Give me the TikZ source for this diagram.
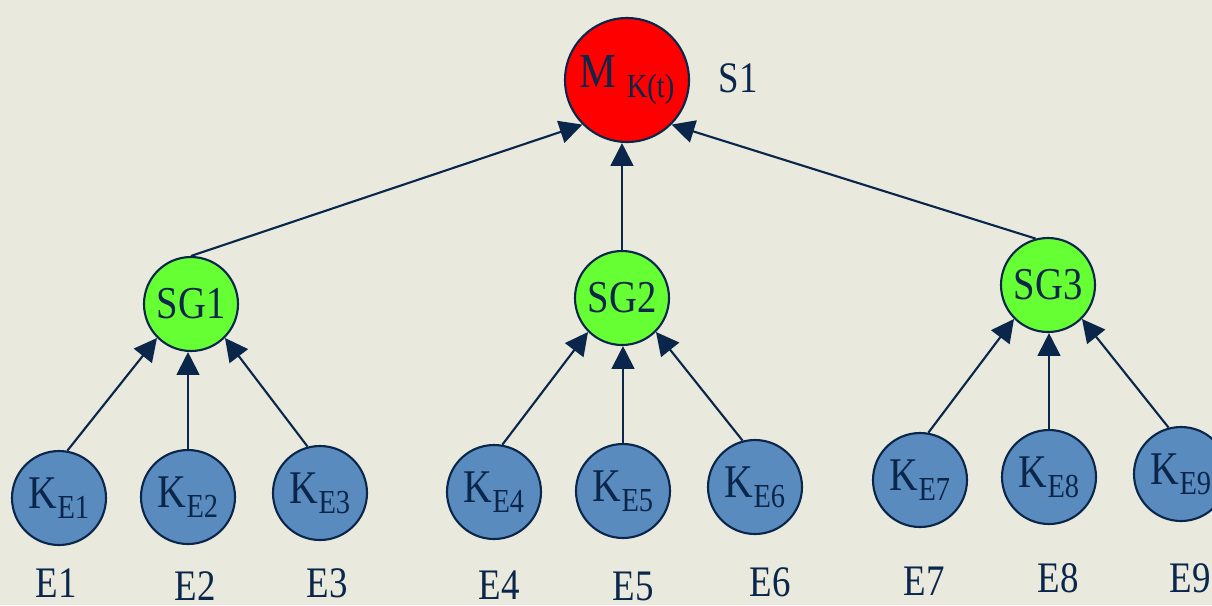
\documentclass[tikz,border=0pt]{standalone}
\usepackage{graphicx}
\usepackage{fontspec}
\setmainfont{Liberation Serif}
\usetikzlibrary{arrows.meta, positioning}
\definecolor{bgpaper}{RGB}{233,233,221}
\definecolor{navy}{RGB}{10,38,75}
\definecolor{topred}{RGB}{255,0,0}
\definecolor{groupgreen}{RGB}{102,255,51}
\definecolor{leafblue}{RGB}{90,139,190}
\newcommand{\ksub}[1]{\raisebox{-2.4pt}{\fontsize{8.1}{9}\selectfont #1}}
\newcommand{\tall}[1]{\scalebox{1}[1.18]{#1}}
\tikzset{
    topnode/.style = {circle, draw=navy, line width=0.6pt, fill=topred, text=navy, inner sep=0pt, minimum size=1.24cm, font=\fontsize{11.8}{13}\selectfont},
    groupnode/.style = {circle, draw=navy, line width=0.6pt, fill=groupgreen, text=navy, inner sep=0pt, minimum size=0.94cm, font=\fontsize{11}{13}\selectfont},
    leafnode/.style = {circle, draw=navy, line width=0.6pt, fill=leafblue, text=navy, inner sep=0pt, minimum size=0.94cm, font=\fontsize{11.3}{13}\selectfont},
    tag/.style = {text=navy, inner sep=0pt, font=\fontsize{10.5}{12}\selectfont},
    line/.style = {draw=navy, line width=0.6pt, -{Triangle[length=6.5pt, width=6.5pt]}}
}
\begin{document}
\begin{tikzpicture}
        % Background
        \useasboundingbox (0,0) rectangle (12.12,6.05);
        \fill [bgpaper] (0,0) rectangle (12.12,6.05);

        % Top node
        \node [topnode] (m) at (6.27,5.25) {\tall{M \ksub{K(t)}}};
        \node [tag] (s1) at (7.38,5.27) {\tall{S1}};

        % Sub groups
        \node [groupnode] (sg1) at (1.91,3.01) {\tall{SG1}};
        \node [groupnode] (sg2) at (6.22,3.07) {\tall{SG2}};
        \node [groupnode] (sg3) at (10.48,3.20) {\tall{SG3}};

        % Leaves
        \node [leafnode] (ke1) at (0.59,1.07) {\tall{K\ksub{E1}}};
        \node [leafnode] (ke2) at (1.88,1.08) {\tall{K\ksub{E2}}};
        \node [leafnode] (ke3) at (3.20,1.12) {\tall{K\ksub{E3}}};
        \node [leafnode] (ke4) at (4.94,1.13) {\tall{K\ksub{E4}}};
        \node [leafnode] (ke5) at (6.23,1.14) {\tall{K\ksub{E5}}};
        \node [leafnode] (ke6) at (7.55,1.18) {\tall{K\ksub{E6}}};
        \node [leafnode] (ke7) at (9.20,1.25) {\tall{K\ksub{E7}}};
        \node [leafnode] (ke8) at (10.49,1.28) {\tall{K\ksub{E8}}};
        \node [leafnode] (ke9) at (11.81,1.31) {\tall{K\ksub{E9}}};

        % Leaf labels
        \node [tag] (e1) at (0.56,0.22) {\tall{E1}};
        \node [tag] (e2) at (1.95,0.19) {\tall{E2}};
        \node [tag] (e3) at (3.27,0.22) {\tall{E3}};
        \node [tag] (e4) at (4.99,0.20) {\tall{E4}};
        \node [tag] (e5) at (6.33,0.19) {\tall{E5}};
        \node [tag] (e6) at (7.70,0.23) {\tall{E6}};
        \node [tag] (e7) at (9.24,0.24) {\tall{E7}};
        \node [tag] (e8) at (10.58,0.27) {\tall{E8}};
        \node [tag] (e9) at (11.90,0.27) {\tall{E9}};

        % Arrows to top
        \path [line] (sg1.north) -- (m.south west);
        \path [line] (sg2.north) -- (sg2.north |- m.south);
        \path [line] (sg3.105) -- (m.south east);

        % Arrows to groups
        \path [line] (ke1.80) -- (sg1.south west);
        \path [line] (ke2.north) -- (ke2.north |- sg1.south);
        \path [line] (ke3.105) -- (sg1.south east);
        \path [line] (ke4.80) -- (sg2.south west);
        \path [line] (ke5.north) -- (ke5.north |- sg2.south);
        \path [line] (ke6.105) -- (sg2.south east);
        \path [line] (ke7.80) -- (sg3.south west);
        \path [line] (ke8.north) -- (ke8.north |- sg3.south);
        \path [line] (ke9.105) -- (sg3.south east);
\end{tikzpicture}
\end{document}
